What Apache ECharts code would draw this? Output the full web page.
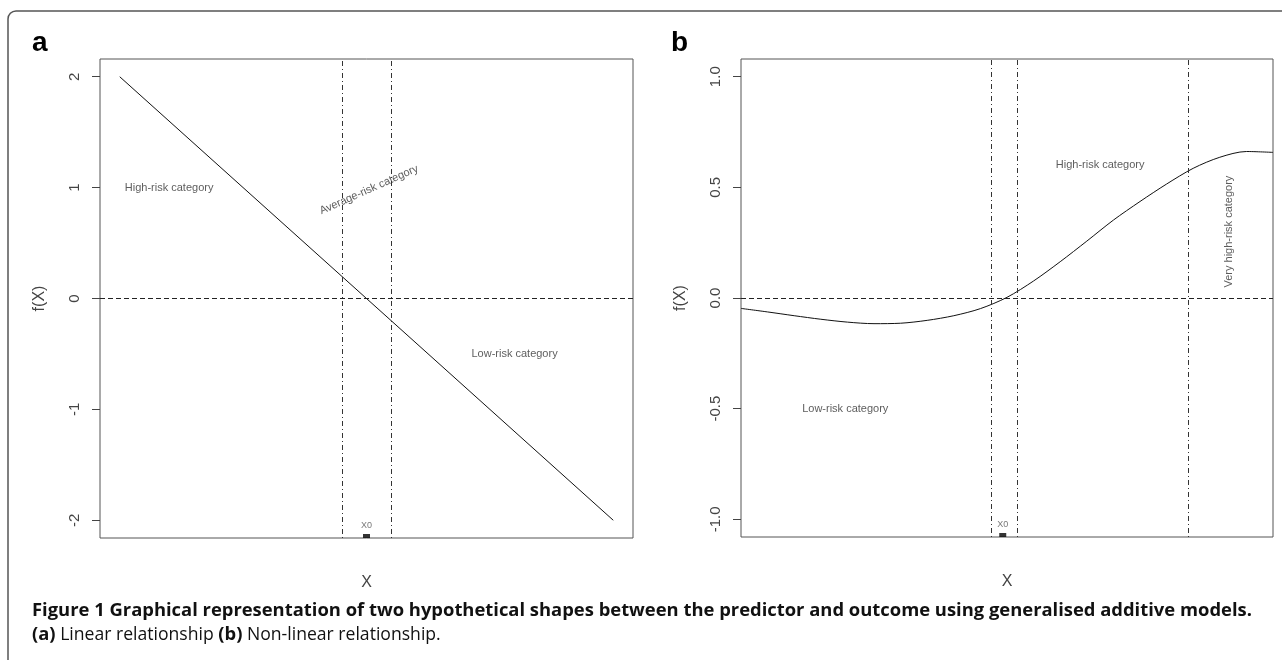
<!DOCTYPE html>
<html>
<head>
<meta charset="utf-8">
<script src="https://cdn.jsdelivr.net/npm/echarts@6/dist/echarts.min.js"></script>
<style>
html,body{margin:0;padding:0;background:#fff;}
#c{width:1282px;height:660px;}
</style>
</head>
<body>
<div id="c"></div>
<script>
// ---- Panel a: linear relationship ----
const aX = [-2, 2];
const aY = [2, -2];
const aCutoffs = [-0.2, 0.2];
const aX0 = 0;
const aYTicks = [-2, -1, 0, 1, 2];
const aYLabels = ['-2', '-1', '0', '1', '2'];
const aNotes = [
  { text: 'High-risk category', x: -1.6, y: 1.0, rot: 0 },
  { text: 'Average-risk category', x: 0.02, y: 0.98, rot: 24 },
  { text: 'Low-risk category', x: 1.2, y: -0.5, rot: 0 }
];

// ---- Panel b: non-linear relationship ----
const bX = [0, 5, 10, 15, 20, 25, 30, 35, 40, 45, 50, 55, 60, 65, 70, 75, 80, 85, 90, 95, 100];
const bY = [-0.047, -0.063, -0.080, -0.096, -0.109, -0.116, -0.114, -0.101, -0.080, -0.048, 0.003,
            0.077, 0.164, 0.257, 0.352, 0.436, 0.515, 0.586, 0.636, 0.662, 0.658];
const bCutoffs = [47, 52, 84];
const bX0 = 49.2;
const bYTicks = [-1, -0.5, 0, 0.5, 1];
const bYLabels = ['-1.0', '-0.5', '0.0', '0.5', '1.0'];
const bNotes = [
  { text: 'High-risk category', x: 67.5, y: 0.6, rot: 0 },
  { text: 'Very high-risk category', x: 91.7, y: 0.30, rot: 90 },
  { text: 'Low-risk category', x: 19.6, y: -0.5, rot: 0 }
];

const FONT = 'Liberation Sans';
const chart = echarts.init(document.getElementById('c'), null, { renderer: 'canvas' });

function yAxisDef(gi, min, max, ticks, labels) {
  return {
    gridIndex: gi, type: 'value', min: min, max: max,
    name: 'f(X)', nameLocation: 'middle', nameGap: 52, nameRotate: 90,
    nameTextStyle: { fontFamily: FONT, fontSize: 16, color: '#444' },
    axisLine: { show: false, onZero: false },
    axisTick: { show: true, length: 8, customValues: ticks, lineStyle: { color: '#444', width: 1 } },
    axisLabel: {
      show: true, customValues: ticks, rotate: 90, margin: 18,
      fontFamily: FONT, fontSize: 15, color: '#444',
      formatter: function (v) { const i = ticks.indexOf(v); return i >= 0 ? labels[i] : ''; }
    },
    splitLine: { show: false }
  };
}
function xAxisDef(gi, min, max) {
  return {
    gridIndex: gi, type: 'value', min: min, max: max,
    name: 'X', nameLocation: 'middle', nameGap: 37,
    nameTextStyle: { fontFamily: FONT, fontSize: 16, color: '#444' },
    axisLine: { show: false, onZero: false }, axisTick: { show: false }, axisLabel: { show: false },
    splitLine: { show: false }
  };
}
function refLines(cut) {
  const d = cut.map(v => ({ xAxis: v, lineStyle: { type: [1, 3, 5, 3], color: '#333', width: 1 } }));
  d.push({ yAxis: 0, lineStyle: { type: [5, 3], color: '#222', width: 1 } });
  return { silent: true, symbol: 'none', label: { show: false }, data: d };
}
function notes(gi, arr) {
  return {
    type: 'scatter', xAxisIndex: gi, yAxisIndex: gi, symbolSize: 1, silent: true, clip: false,
    itemStyle: { color: 'rgba(0,0,0,0)' },
    data: arr.map(n => ({
      value: [n.x, n.y],
      label: { show: true, position: 'inside', formatter: n.text, rotate: n.rot,
               fontFamily: FONT, fontSize: 11, color: '#333' }
    }))
  };
}
function x0Marker(gi, x, ymin) {
  return {
    type: 'scatter', xAxisIndex: gi, yAxisIndex: gi, clip: false, silent: true,
    symbol: 'rect', symbolSize: [7, 4], symbolOffset: [0, -2],
    itemStyle: { color: '#000' },
    label: { show: true, position: 'top', distance: 4, formatter: 'X0',
             fontFamily: FONT, fontSize: 9, color: '#555' },
    data: [[x, ymin]]
  };
}

const option = {
  backgroundColor: '#fff',
  animation: false,
  grid: [
    { left: 100, top: 59, width: 533, height: 479, show: true, borderColor: '#555', borderWidth: 1, backgroundColor: 'transparent' },
    { left: 741, top: 59, width: 532, height: 478, show: true, borderColor: '#555', borderWidth: 1, backgroundColor: 'transparent' }
  ],
  xAxis: [xAxisDef(0, -2.16, 2.16), xAxisDef(1, 0, 100)],
  yAxis: [yAxisDef(0, -2.16, 2.16, aYTicks, aYLabels), yAxisDef(1, -1.08, 1.08, bYTicks, bYLabels)],
  series: [
    {
      type: 'line', xAxisIndex: 0, yAxisIndex: 0, showSymbol: false, silent: true,
      lineStyle: { color: '#111', width: 1 },
      data: aX.map((x, i) => [x, aY[i]]),
      markLine: refLines(aCutoffs)
    },
    {
      type: 'line', xAxisIndex: 1, yAxisIndex: 1, showSymbol: false, silent: true, smooth: 0.3,
      lineStyle: { color: '#111', width: 1 },
      data: bX.map((x, i) => [x, bY[i]]),
      markLine: refLines(bCutoffs)
    },
    notes(0, aNotes),
    notes(1, bNotes),
    x0Marker(0, aX0, -2.16),
    x0Marker(1, bX0, -1.08)
  ],
  graphic: [
    { type: 'rect', shape: { x: 8, y: 11, width: 1290, height: 670, r: 8 },
      style: { fill: 'none', stroke: '#555', lineWidth: 1.5 }, silent: true },
    { type: 'text', left: 32, top: 29, style: { text: 'a', font: 'bold 28px "Liberation Sans"', fill: '#000' } },
    { type: 'text', left: 671, top: 29, style: { text: 'b', font: 'bold 28px "Liberation Sans"', fill: '#000' } },
    { type: 'text', left: 32, top: 602,
      style: {
        text: '{b|Figure 1 Graphical representation of two hypothetical shapes between the predictor and outcome using generalised additive models.}\n{b|(a)}{n| Linear relationship }{b|(b)}{n| Non-linear relationship.}',
        rich: {
          b: { fontFamily: 'Open Sans', fontWeight: 'bold', fontSize: 18.4, lineHeight: 24, fill: '#111' },
          n: { fontFamily: 'Open Sans', fontWeight: 'normal', fontSize: 17.6, lineHeight: 24, fill: '#111' }
        }
      }
    }
  ]
};
chart.setOption(option);
</script>
</body>
</html>
